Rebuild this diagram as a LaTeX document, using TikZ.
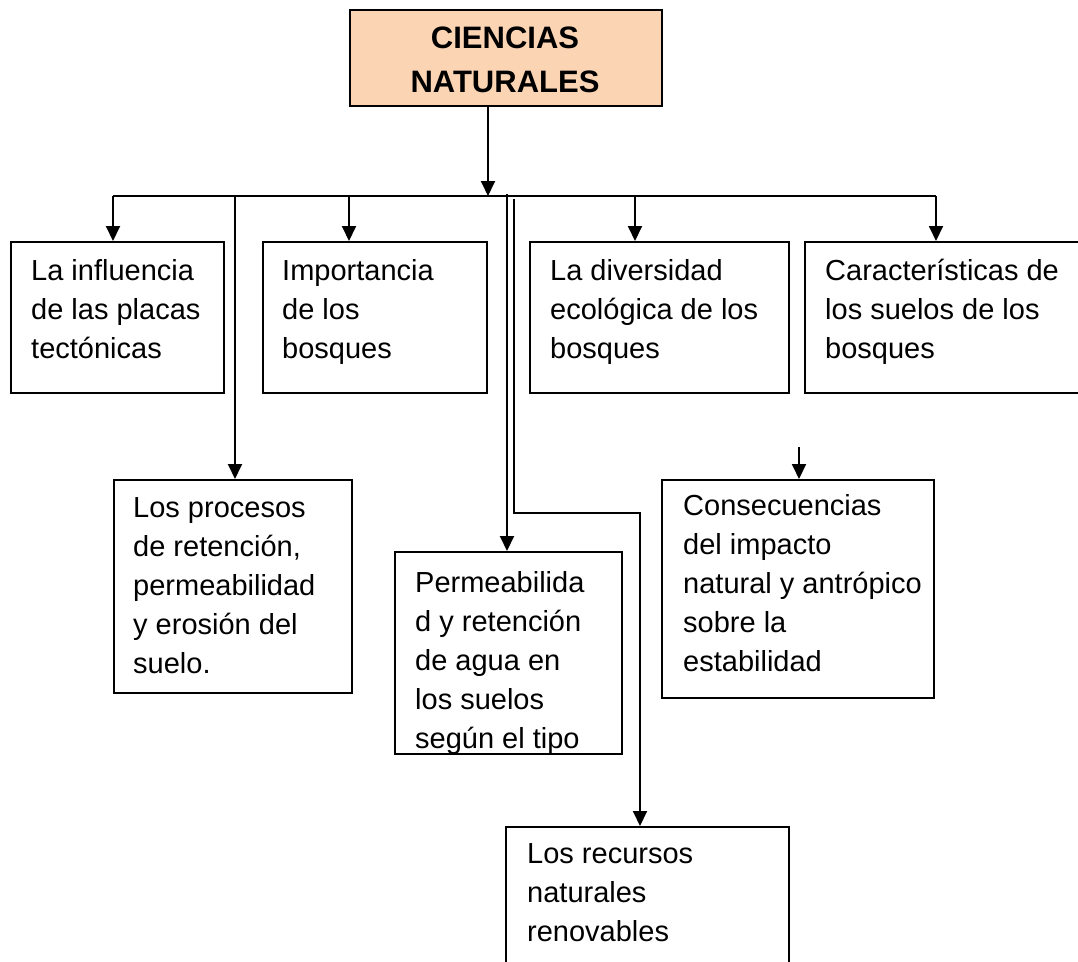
\documentclass[tikz,border=0pt]{standalone}
\usepackage{fontspec}
\setmainfont{Liberation Sans}
\usetikzlibrary{arrows.meta}
\definecolor{peach}{HTML}{FBD4B4}
\begin{document}
\begin{tikzpicture}[x=1pt,y=-1pt,
  box/.style={draw, line width=1.9pt, rectangle, inner sep=0pt, anchor=north west},
  txt/.style={anchor=base west, align=left, inner sep=0pt, font=\fontsize{29}{39}\selectfont},
  ttl/.style={anchor=base, align=center, inner sep=0pt, font=\fontsize{31}{44}\selectfont\bfseries},
  ln/.style={line width=1.9pt},
  arr/.style={line width=1.9pt, -{Triangle[length=15pt,width=14pt]}}]
\useasboundingbox (0,0) rectangle (1078,961);

% boxes
\node[box, fill=peach, minimum width=312, minimum height=96] (top) at (349,9) {};
\node[box, minimum width=213, minimum height=151] (b1) at (10,241) {};
\node[box, minimum width=224, minimum height=151] (b2) at (262,241) {};
\node[box, minimum width=259, minimum height=151] (b3) at (529,241) {};
\node[box, minimum width=290, minimum height=151] (b4) at (804,241) {};
\node[box, minimum width=238, minimum height=213] (b5) at (113,479) {};
\node[box, minimum width=227, minimum height=202] (b6) at (394,551) {};
\node[box, minimum width=272, minimum height=218] (b7) at (661,479) {};
\node[box, minimum width=283, minimum height=150] (b8) at (505,826) {};

% texts (base anchor = baseline of last line)
\node[ttl] (t0) at (505,92) {CIENCIAS\\NATURALES};
\node[txt] (t1) at (31,358) {La influencia\\de las placas\\tectónicas};
\node[txt] (t2) at (282,358) {Importancia\\de los\\bosques};
\node[txt] (t3) at (550,358) {La diversidad\\ecológica de los\\bosques};
\node[txt] (t4) at (825,358) {Características de\\los suelos de los\\bosques};
\node[txt] (t5) at (133,673) {Los procesos\\de retención,\\permeabilidad\\y erosión del\\suelo.};
\node[txt] (t6) at (415,748) {Permeabilida\\d y retención\\de agua en\\los suelos\\según el tipo};
\node[txt] (t7) at (683,671) {Consecuencias\\del impacto\\natural y antrópico\\sobre la\\estabilidad};
\node[txt] (t8) at (527,941) {Los recursos\\naturales\\renovables};

% junction coordinates
\coordinate (jm) at (488,196);
\coordinate (jl) at (113,196);
\coordinate (j2) at (349,196);
\coordinate (j3) at (635,196);
\coordinate (jr) at (936,196);
\coordinate (v5) at (235,196);
\coordinate (v6) at (507,194);
\coordinate (v8) at (514,199);
\coordinate (k1) at (514,513);
\coordinate (k2) at (640,513);
\coordinate (s7) at (799,447);

% connectors
\draw[arr] (top.south -| jm) -- (jm);
\draw[ln] (jl) -- (jr);
\draw[arr] (jl) -- (jl |- b1.north);
\draw[arr] (j2) -- (j2 |- b2.north);
\draw[arr] (j3) -- (j3 |- b3.north);
\draw[arr] (jr) -- (jr |- b4.north);
\draw[arr] (v5) -- (v5 |- b5.north);
\draw[arr] (v6) -- (v6 |- b6.north);
\draw[arr] (v8) -- (k1) -- (k2) -- (k2 |- b8.north);
\draw[arr] (s7) -- (s7 |- b7.north);
\end{tikzpicture}
\end{document}
